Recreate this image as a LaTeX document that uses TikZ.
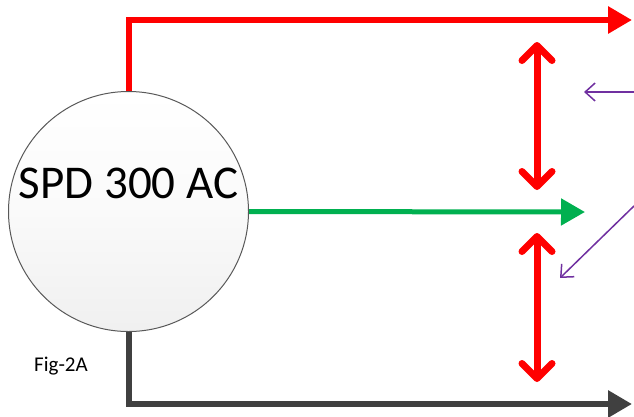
\documentclass[tikz,border=0pt]{standalone}
\usepackage{fontspec}
\setmainfont{Carlito}
\usetikzlibrary{arrows.meta}
\definecolor{spdred}{HTML}{FF0000}
\definecolor{spdgreen}{HTML}{00B050}
\definecolor{spdgray}{HTML}{404040}
\definecolor{spdpurple}{HTML}{7030A0}
\tikzset{wire/.style={line width=6pt, -{Triangle[length=24pt,width=26pt]}},
         gap/.style={spdred, line width=7pt, line cap=round,
           {Straight Barb[length=15pt,width=30pt,line cap=round,line join=round]}-{Straight Barb[length=15pt,width=30pt,line cap=round,line join=round]}},
         hint/.style={spdpurple, line width=1.5pt, -{Straight Barb[length=10pt,width=18pt]}}}

\begin{document}
\begin{tikzpicture}[x=1pt,y=-1pt]
  \useasboundingbox (0,0) rectangle (634,416);
  \node[circle, draw=black!65, line width=1pt, minimum size=240pt, inner sep=0pt,
        top color=white, bottom color=black!6, middle color=black!2] (spd) at (128.5,211.5) {};
  \node[anchor=base, inner sep=0pt, font=\fontsize{47}{50}\selectfont] (lbl) at (128.5,198) {SPD 300 AC};
  \node[anchor=base west, inner sep=0pt, font=\fontsize{21}{23}\selectfont] (fig) at (34,371) {Fig-2A};
  \coordinate (a) at (632,20);
  \coordinate (b) at (585,212);
  \coordinate (c) at (632,404);
  \draw[wire, spdred]   (spd.north) |- (a);
  \draw[wire, spdgreen, line width=5pt] (spd.east) -- (b);
  \draw[wire, spdgray]  (spd.south) |- (c);
  % gaps
  \coordinate (g1) at (537,42);  \coordinate (g2) at (537,190);
  \coordinate (g3) at (537,233); \coordinate (g4) at (537,382);
  \draw[gap] (g1) -- (g2);
  \draw[gap] (g3) -- (g4);
  % pointers
  \coordinate (p1) at (634,92);  \coordinate (q1) at (584,92);
  \coordinate (p2) at (634,206); \coordinate (q2) at (560,278);
  \draw[hint] (p1) -- (q1);
  \draw[hint] (p2) -- (q2);
\end{tikzpicture}
\end{document}
